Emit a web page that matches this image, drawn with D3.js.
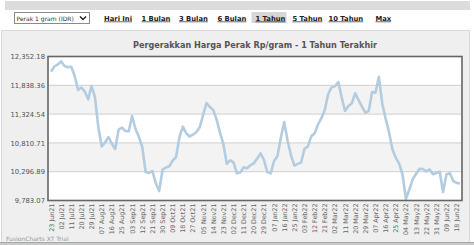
<!DOCTYPE html>
<html>
<head>
<meta charset="utf-8">
<script src="https://cdn.jsdelivr.net/npm/d3@7"></script>
<style>
  body { margin: 0; background: #fff; }
  svg { display: block; }
</style>
</head>
<body>
<svg id="chart" width="474" height="245"></svg>
<script>
// ---- data ----
const productLabel = 'Perak 1 gram (IDR)';
const periodLinks = ['Hari Ini', '1 Bulan', '3 Bulan', '6 Bulan', '1 Tahun', '5 Tahun', '10 Tahun', 'Max'];
const activePeriod = '1 Tahun';
const chartTitle = 'Pergerakkan Harga Perak Rp/gram - 1 Tahun Terakhir';

// one label every 3rd point (points are 3 days apart)
const dateLabels = ['23 Jun21', '02 Jul21', '11 Jul21', '20 Jul21', '29 Jul21', '07 Aug21', '16 Aug21',
    '25 Aug21', '03 Sep21', '12 Sep21', '21 Sep21', '30 Sep21', '09 Oct21', '18 Oct21', '27 Oct21',
    '05 Nov21', '14 Nov21', '23 Nov21', '02 Dec21', '11 Dec21', '20 Dec21', '29 Dec21', '07 Jan22',
    '16 Jan22', '25 Jan22', '03 Feb22', '12 Feb22', '21 Feb22', '02 Mar22', '11 Mar22', '20 Mar22',
    '29 Mar22', '07 Apr22', '16 Apr22', '25 Apr22', '04 May22', '13 May22', '22 May22', '31 May22',
    '09 Jun22', '18 Jun22'];

const yTicks = [9783.07, 10296.89, 10810.71, 11324.54, 11838.36, 12352.18];

const prices = [
    12081, 12174, 12211, 12263, 12183, 12161, 12170, 12008, 11754, 11799,
    11726, 11588, 11826, 11629, 11094, 10746, 10818, 10916, 10795, 10702,
    11048, 11082, 11023, 11018, 11291, 11059, 10919, 10737, 10291, 10274,
    10309, 10090, 9952, 10333, 10372, 10393, 10497, 10559, 10911, 11101,
    10982, 10925, 10960, 11000, 11089, 11308, 11522, 11451, 11398, 11226,
    10993, 10791, 10438, 10498, 10463, 10268, 10281, 10374, 10359, 10413,
    10447, 10532, 10623, 10506, 10291, 10268, 10488, 10577, 10903, 11183,
    10850, 10589, 10407, 10436, 10461, 10707, 10748, 10928, 10982, 11139,
    11251, 11398, 11683, 11801, 11822, 11897, 11621, 11380, 11469, 11519,
    11695, 11572, 11458, 11349, 11381, 11719, 11708, 11990, 11512, 11242,
    11002, 10696, 10547, 10440, 10247, 9810, 9979, 10161, 10256, 10349,
    10345, 10302, 10338, 10252, 10274, 10297, 9935, 10250, 10270, 10131,
    10097, 10086
];

// ---- layout ----
const svg = d3.select('#chart');
const font = 'Verdana, "DejaVu Sans", sans-serif';
const plot = {left: 48, right: 462, top: 56.5, bottom: 200.5};

// top strip
svg.append('rect')
    .attr('x', 5).attr('y', 1).attr('width', 465).attr('height', 9)
    .attr('fill', '#dcdcdc');

// select box
const sel = svg.append('g');
sel.append('rect')
    .attr('x', 14.5).attr('y', 12.5).attr('width', 75).attr('height', 11)
    .attr('fill', '#fff').attr('stroke', '#8a8a8a');
sel.append('text')
    .attr('x', 16.5).attr('y', 20.5)
    .attr('font-family', font).attr('font-size', 6)
    .attr('fill', '#333')
    .text(productLabel);
sel.append('path')
    .attr('d', 'M80,16.5 L83,19.5 L86,16.5')
    .attr('fill', 'none').attr('stroke', '#222').attr('stroke-width', 1.4);

// period links
const linkX = [104, 141.5, 179, 217.5, 255.5, 292.5, 328.5, 375.5];
periodLinks.forEach((name, i) => {
    if (name === activePeriod) {
        svg.append('rect')
            .attr('x', linkX[i] - 4).attr('y', 12).attr('width', 35).attr('height', 11)
            .attr('fill', '#d6d6d6');
    }
    svg.append('text')
        .attr('x', linkX[i]).attr('y', 20.5)
        .attr('font-family', font).attr('font-size', 6.8)
        .attr('font-weight', 'bold')
        .attr('fill', '#222')
        .attr('text-decoration', 'underline')
        .text(name);
});

// chart panel
svg.append('rect')
    .attr('x', 1.5).attr('y', 30.5).attr('width', 468).attr('height', 213)
    .attr('fill', '#efefef').attr('stroke', '#d8d8d8');

// bottom gray bar
svg.append('rect')
    .attr('x', 0).attr('y', 242.5).attr('width', 474).attr('height', 3)
    .attr('fill', '#c9c9c9');
svg.append('line')
    .attr('x1', 0).attr('x2', 474).attr('y1', 242.5).attr('y2', 242.5)
    .attr('stroke', '#a8a8a8');

// title
const title = svg.append('text')
    .attr('x', 255).attr('y', 48)
    .attr('text-anchor', 'middle')
    .attr('font-family', font).attr('font-size', 8.2)
    .attr('font-weight', 'bold')
    .attr('fill', '#555')
    .text(chartTitle);
// squeeze to the width seen in the picture
let tw = title.node().getComputedTextLength();
if (tw > 244) title.attr('textLength', 244).attr('lengthAdjust', 'spacingAndGlyphs');

// scales
const x = d3.scaleLinear().domain([0, prices.length - 1]).range([51, 460]);
const y = d3.scaleLinear().domain([yTicks[0], yTicks[yTicks.length - 1]]).range([plot.bottom, plot.top]);

// plot background + alternate bands
svg.append('rect')
    .attr('x', plot.left).attr('y', plot.top)
    .attr('width', plot.right - plot.left).attr('height', plot.bottom - plot.top)
    .attr('fill', '#fff');

for (let i = 0; i < yTicks.length - 1; i++) {
    if (i % 2 === 1) {
        svg.append('rect')
            .attr('x', plot.left).attr('y', y(yTicks[i + 1]))
            .attr('width', plot.right - plot.left)
            .attr('height', y(yTicks[i]) - y(yTicks[i + 1]))
            .attr('fill', '#f3f3f3');
    }
}

// grid
svg.append('g')
    .selectAll('line')
    .data(yTicks.slice(1, -1))
    .join('line')
    .attr('x1', plot.left).attr('x2', plot.right)
    .attr('y1', d => y(d)).attr('y2', d => y(d))
    .attr('stroke', '#cfcfcf').attr('stroke-width', 1);

// y axis labels
const fmt = d3.format(',.2f');
const yAxis = d3.axisLeft(y).tickValues(yTicks).tickFormat(fmt).tickSize(0).tickPadding(3);
const yg = svg.append('g')
    .attr('transform', `translate(${plot.left},0)`)
    .call(yAxis);
yg.select('.domain').remove();
yg.selectAll('text')
    .attr('font-family', font).attr('font-size', 6.8)
    .attr('fill', '#555');

// x axis labels (rotated)
const xg = svg.append('g');
xg.selectAll('text')
    .data(dateLabels)
    .join('text')
    .attr('transform', (d, i) => `translate(${x(i * 3) + 2.5},${plot.bottom + 3}) rotate(-90)`)
    .attr('text-anchor', 'end')
    .attr('font-family', font).attr('font-size', 6.4)
    .attr('fill', '#666')
    .text(d => d);

// price line
const line = d3.line()
    .x((d, i) => x(i))
    .y(d => y(d));

svg.append('path')
    .datum(prices)
    .attr('d', line)
    .attr('fill', 'none')
    .attr('stroke', '#b3cce0')
    .attr('stroke-width', 2.6)
    .attr('stroke-linejoin', 'round');

// plot border
svg.append('rect')
    .attr('x', plot.left).attr('y', plot.top)
    .attr('width', plot.right - plot.left).attr('height', plot.bottom - plot.top)
    .attr('fill', 'none')
    .attr('stroke', '#666').attr('stroke-width', 1.6);

// trial mark
svg.append('text')
    .attr('x', 6).attr('y', 240.5)
    .attr('font-family', font).attr('font-size', 6)
    .attr('fill', '#8a9aa8')
    .text('FusionCharts XT Trial');
</script>
</body>
</html>
